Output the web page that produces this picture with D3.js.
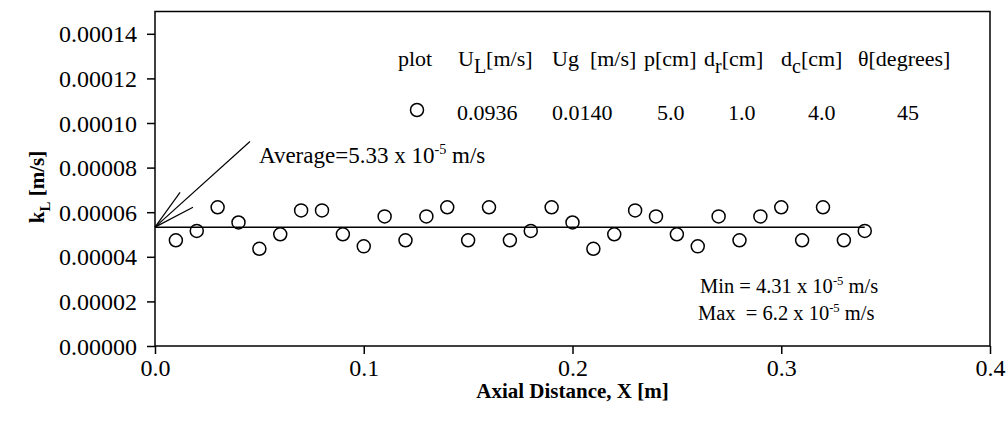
<!DOCTYPE html>
<html><head><meta charset="utf-8">
<script src="https://cdn.jsdelivr.net/npm/d3@7"></script>
<style>
body{margin:0;background:#fff;}
text{font-family:"Liberation Serif","Times New Roman",serif;fill:#000;}
</style></head>
<body><svg id="c" width="1008" height="428"></svg>
<script>
// ---- data ----
const xVals = [0.01,0.02,0.03,0.04,0.05,0.06,0.07,0.08,0.09,0.10,0.11,0.12,0.13,0.14,0.15,0.16,0.17,0.18,0.19,0.20,0.21,0.22,0.23,0.24,0.25,0.26,0.27,0.28,0.29,0.30,0.31,0.32,0.33,0.34];
const kLVals = [4.74e-5,5.16e-5,6.22e-5,5.54e-5,4.36e-5,5.01e-5,6.08e-5,6.08e-5,5.01e-5,4.47e-5,5.81e-5,4.74e-5,5.81e-5,6.22e-5,4.74e-5,6.22e-5,4.74e-5,5.16e-5,6.22e-5,5.54e-5,4.36e-5,5.01e-5,6.08e-5,5.81e-5,5.01e-5,4.47e-5,5.81e-5,4.74e-5,5.81e-5,6.22e-5,4.74e-5,6.22e-5,4.74e-5,5.16e-5];
const average = 5.33e-5;
const avgLineX = [0, 0.34];
const pointerStart = [0, 5.33e-5];
const pointerEnds = [[0.0455, 9.17e-5],[0.012, 6.89e-5],[0.0182, 6.22e-5]];
const xTicks = [0, 0.1, 0.2, 0.3, 0.4];
const yTicks = [0, 0.00002, 0.00004, 0.00006, 0.00008, 0.00010, 0.00012, 0.00014];
const legendValues = ["0.0936", "0.0140", "5.0", "1.0", "4.0", "45"];

// ---- layout ----
const FONT = "'Liberation Serif','Times New Roman',serif";
const svg = d3.select("#c");
const L = 155, R = 990, T = 11.5, B = 346;
const x = d3.scaleLinear().domain([0, 0.4]).range([L, R]);
const y = d3.scaleLinear().domain([0, 0.00015]).range([B, T]);

// frame
svg.append("rect").attr("x", L).attr("y", T).attr("width", R - L).attr("height", B - T)
  .attr("fill", "none").attr("stroke", "#000").attr("stroke-width", 1.5);

// axes
const xAxis = d3.axisBottom(x).tickValues(xTicks).tickSize(8).tickPadding(5).tickFormat(d3.format(".1f"));
const yAxis = d3.axisLeft(y).tickValues(yTicks).tickSize(8).tickPadding(10).tickFormat(d3.format(".5f"));
const gx = svg.append("g").attr("transform", `translate(0,${B})`).call(xAxis);
const gy = svg.append("g").attr("transform", `translate(${L},0)`).call(yAxis);
[gx, gy].forEach(g => {
  g.attr("font-family", null).attr("font-size", null);
  g.select(".domain").remove();
  g.selectAll(".tick line").attr("stroke", "#000").attr("stroke-width", 1.5);
  g.selectAll(".tick text").style("font-family", FONT).style("font-size", "24px").attr("fill", "#000");
});
gy.selectAll(".tick text").attr("dy", "0.34em");

// axis titles
svg.append("text").attr("x", (L + R) / 2).attr("y", 398).attr("text-anchor", "middle")
  .attr("font-size", 21).attr("font-weight", "bold").text("Axial Distance, X [m]");
const yt = svg.append("text").attr("transform", `translate(44,187) rotate(-90)`)
  .attr("text-anchor", "middle").attr("font-size", 21).attr("font-weight", "bold");
yt.append("tspan").text("k");
yt.append("tspan").attr("dy", 6).attr("font-size", 15).text("L");
yt.append("tspan").attr("dy", -6).text(" [m/s]");

// average line
svg.append("line").attr("x1", x(avgLineX[0])).attr("x2", x(avgLineX[1]))
  .attr("y1", y(average)).attr("y2", y(average)).attr("stroke", "#000").attr("stroke-width", 1.5);

// pointer lines
svg.selectAll(".ptr").data(pointerEnds).enter().append("line")
  .attr("x1", x(pointerStart[0])).attr("y1", y(pointerStart[1]))
  .attr("x2", d => x(d[0])).attr("y2", d => y(d[1]))
  .attr("stroke", "#000").attr("stroke-width", 1.2);

// points
svg.selectAll(".pt").data(xVals.map((v, i) => [v, kLVals[i]])).enter().append("circle")
  .attr("cx", d => x(d[0])).attr("cy", d => y(d[1])).attr("r", 6.5)
  .attr("fill", "none").attr("stroke", "#000").attr("stroke-width", 1.5);

// annotations
function sciText(xp, yp, size, parts) {
  const t = svg.append("text").attr("x", xp).attr("y", yp).attr("font-size", size).attr("xml:space", "preserve");
  t.append("tspan").text(parts[0]);
  t.append("tspan").attr("dy", -size * 0.4).attr("font-size", size * 0.62).text(parts[1]);
  t.append("tspan").attr("dy", size * 0.4).text(parts[2]);
}
sciText(259, 163, 23, ["Average=5.33 x 10", "-5", " m/s"]);
sciText(700, 293, 20.5, ["Min = 4.31 x 10", "-5", " m/s"]);
sciText(698, 320, 20.5, ["Max  = 6.2 x 10", "-5", " m/s"]);

// legend header
const hy = 66;
function hdr(xp, main, sub, rest) {
  const t = svg.append("text").attr("x", xp).attr("y", hy).attr("font-size", 22).attr("xml:space", "preserve");
  t.append("tspan").text(main);
  if (sub) {
    t.append("tspan").attr("dy", 7).attr("font-size", 20).text(sub);
    t.append("tspan").attr("dy", -7).text(rest);
  }
}
hdr(398, "plot");
hdr(458, "U", "L", "[m/s]");
hdr(552, "Ug  [m/s]");
hdr(644, "p[cm]");
hdr(704, "d", "r", "[cm]");
hdr(781, "d", "c", "[cm]");
hdr(858, "θ[degrees]");

// legend values
svg.append("circle").attr("cx", 417).attr("cy", 110).attr("r", 6.5)
  .attr("fill", "none").attr("stroke", "#000").attr("stroke-width", 1.5);
const valX = [457, 552, 657, 728, 808, 897];
legendValues.forEach((v, i) => {
  svg.append("text").attr("x", valX[i]).attr("y", 120).attr("font-size", 22).text(v);
});
</script></body></html>
